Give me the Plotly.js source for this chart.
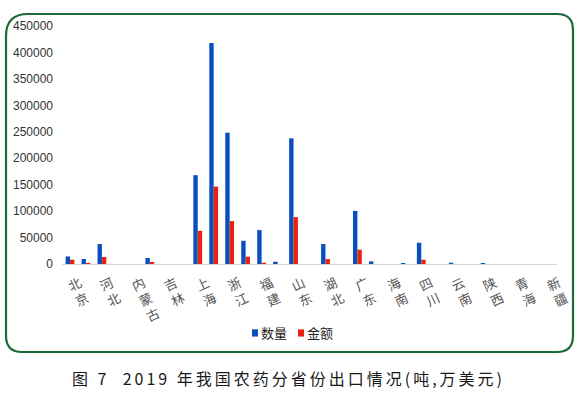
<!DOCTYPE html>
<html>
<head>
<meta charset="utf-8">
<script src="https://cdn.plot.ly/plotly-3.0.1.min.js"></script>
<style>
html,body{margin:0;padding:0;background:#fff;}
#chart{width:581px;height:393px;}
.annotation-text{letter-spacing:3px;}
.legendpoints path{transform:translate(34px,0px) scale(0.5,0.6);}
.legend .scrollbox, .legend *{clip-path:none !important;}
</style>
</head>
<body>
<div id="chart"></div>
<script>
// Data
var provinces = ['北京','天津','河北','山西','内蒙古','辽宁','吉林','黑龙江','上海','江苏','浙江','安徽','福建','江西','山东','河南','湖北','湖南','广东','广西','海南','重庆','四川','贵州','云南','西藏','陕西','甘肃','青海','宁夏','新疆'];
var quantity = [14300,9400,37700,0,0,11300,0,0,167900,418000,248200,43900,64100,4300,237600,0,37700,0,100500,5000,0,1900,40200,0,2400,0,1900,0,0,0,0];
var amount   = [8100,2000,13200,0,0,3800,0,0,62800,146400,81100,13800,2400,0,88600,0,9400,0,27000,0,0,0,8100,0,0,0,0,0,0,0,0];
var tickLabels = ['北京','河北','内蒙古','吉林','上海','浙江','福建','山东','湖北','广东','海南','四川','云南','陕西','青海','新疆'];
var seriesNames = ['数量','金额'];
var yTicks = [0,50000,100000,150000,200000,250000,300000,350000,400000,450000];
var caption = '图 7  2019 年我国农药分省份出口情况(吨,万美元)';

// layout geometry (pixels)
var W = 581, H = 393, L = 62, R = 24, T = 26, B = 129;
var pw = W - L - R, ph = H - T - B;
function px(x){ return (x - L) / pw; }
function py(y){ return (H - B - y) / ph; }

function roundedBox(x0, y0, x1, y1, rTL, r){
  var p = [];
  p.push('M' + px(x0) + ',' + py(y0 + rTL));
  p.push('Q' + px(x0) + ',' + py(y0) + ' ' + px(x0 + rTL) + ',' + py(y0));
  p.push('L' + px(x1 - r) + ',' + py(y0));
  p.push('Q' + px(x1) + ',' + py(y0) + ' ' + px(x1) + ',' + py(y0 + r));
  p.push('L' + px(x1) + ',' + py(y1 - r));
  p.push('Q' + px(x1) + ',' + py(y1) + ' ' + px(x1 - r) + ',' + py(y1));
  p.push('L' + px(x0 + r) + ',' + py(y1));
  p.push('Q' + px(x0) + ',' + py(y1) + ' ' + px(x0) + ',' + py(y1 - r));
  p.push('Z');
  return p.join(' ');
}

var stackedText = tickLabels.map(function(s){ return s.split('').join('<br>'); });

var traces = [
  {type:'bar', name:seriesNames[0], x:provinces, y:quantity, marker:{color:'#0a4ebf'}},
  {type:'bar', name:seriesNames[1], x:provinces, y:amount, marker:{color:'#e8230e'}}
];

var layout = {
  width: W, height: H,
  margin: {l:L, r:R, t:T, b:B, pad:0},
  paper_bgcolor:'#ffffff', plot_bgcolor:'#ffffff',
  barmode:'group', bargap:0.45, bargroupgap:0,
  font:{family:'"Noto Sans CJK SC", "Liberation Sans", sans-serif', color:'#333'},
  xaxis:{
    type:'category', tickvals:tickLabels, ticktext:stackedText,
    tickangle:-25, tickfont:{size:13, color:'#555', family:'"Noto Sans CJK SC", sans-serif'},
    showline:true, linecolor:'#d4d4d4', linewidth:1, ticks:'', showgrid:false, zeroline:false,
    ticklabelstandoff:6, ticklabelshift:10, fixedrange:true
  },
  yaxis:{
    range:[0,450000], tickvals:yTicks, ticktext:yTicks.map(String),
    tickfont:{size:12, color:'#333', family:'"Liberation Sans", Arial, sans-serif'},
    showgrid:false, zeroline:false, showline:false, ticks:'', ticklabelstandoff:8,
    fixedrange:true
  },
  showlegend:true,
  legend:{orientation:'h', x:px(267), y:py(333), xanchor:'center', yanchor:'middle',
          font:{size:13, color:'#222'}, itemwidth:30, tracegroupgap:0, entrywidth:1,
          bgcolor:'rgba(0,0,0,0)'},
  shapes:[{
    type:'path', xref:'paper', yref:'paper', layer:'below',
    path: roundedBox(6, 14, 573, 352, 22, 16),
    line:{color:'#1b6b3a', width:2.2}, fillcolor:'rgba(0,0,0,0)'
  }],
  annotations:[{
    xref:'paper', yref:'paper', x:px(288), y:py(378), xanchor:'center', yanchor:'middle',
    text: caption, showarrow:false,
    font:{size:16, color:'#1a1a1a', family:'"Noto Sans CJK SC", sans-serif'}
  }]
};

Plotly.newPlot('chart', traces, layout, {displayModeBar:false, staticPlot:true});
</script>
</body>
</html>
